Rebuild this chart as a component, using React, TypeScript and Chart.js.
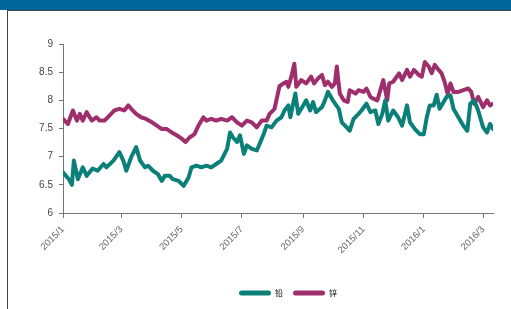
import React, { useEffect, useRef } from "react";
import { Chart, registerables } from "chart.js";

Chart.register(...registerables);

// Days counted from 2015-01-01
const leadDays = [0, 3, 6, 9, 11, 15, 20, 24, 30, 35, 41, 44, 51, 57, 61, 64, 69, 74, 78, 83, 86, 91, 96, 100, 103, 108, 111, 117, 122, 127, 130, 135, 140, 145, 150, 155, 160, 166, 169, 172, 176, 179, 183, 186, 191, 196, 199, 203, 206, 211, 216, 221, 224, 228, 230, 235, 238, 243, 246, 250, 253, 256, 262, 265, 268, 273, 279, 282, 287, 290, 294, 299, 302, 307, 311, 316, 319, 323, 326, 329, 334, 339, 343, 348, 351, 356, 361, 365, 368, 371, 375, 378, 381, 385, 388, 392, 395, 400, 405, 409, 412, 416, 420, 425, 429, 432, 435];
const leadValues = [6.72, 6.66, 6.6, 6.5, 6.93, 6.6, 6.81, 6.66, 6.79, 6.75, 6.87, 6.81, 6.93, 7.08, 6.93, 6.75, 6.99, 7.17, 6.93, 6.81, 6.84, 6.75, 6.69, 6.57, 6.66, 6.66, 6.6, 6.57, 6.48, 6.63, 6.81, 6.84, 6.81, 6.84, 6.81, 6.87, 6.93, 7.14, 7.43, 7.34, 7.26, 7.38, 7.05, 7.2, 7.14, 7.11, 7.23, 7.4, 7.55, 7.52, 7.64, 7.7, 7.82, 7.91, 7.7, 8.12, 7.76, 7.91, 8.0, 7.82, 7.97, 7.79, 7.88, 8.0, 8.15, 8.0, 7.85, 7.61, 7.52, 7.46, 7.67, 7.76, 7.82, 7.94, 7.79, 7.82, 7.58, 7.76, 8.0, 7.64, 7.82, 7.7, 7.55, 7.91, 7.61, 7.49, 7.4, 7.4, 7.7, 7.91, 7.91, 8.1, 7.85, 7.97, 8.06, 8.09, 7.85, 7.7, 7.55, 7.46, 7.94, 8.0, 7.82, 7.52, 7.43, 7.58, 7.49];

const zincDays = [0, 5, 10, 14, 17, 20, 24, 29, 34, 37, 42, 47, 52, 57, 62, 66, 69, 74, 79, 84, 90, 95, 100, 105, 110, 115, 120, 124, 128, 133, 137, 142, 145, 150, 155, 160, 166, 171, 176, 181, 186, 191, 196, 201, 206, 209, 214, 219, 223, 226, 228, 231, 234, 236, 241, 246, 251, 254, 258, 262, 265, 268, 272, 275, 277, 280, 284, 288, 290, 296, 299, 304, 307, 311, 314, 318, 321, 324, 328, 330, 334, 340, 343, 348, 351, 355, 360, 363, 366, 370, 373, 376, 380, 383, 386, 389, 392, 395, 400, 405, 410, 413, 416, 420, 425, 429, 432, 435];
const zincValues = [7.67, 7.58, 7.82, 7.64, 7.76, 7.64, 7.79, 7.64, 7.7, 7.64, 7.64, 7.73, 7.82, 7.85, 7.82, 7.91, 7.85, 7.76, 7.7, 7.67, 7.61, 7.55, 7.49, 7.49, 7.43, 7.38, 7.32, 7.26, 7.34, 7.4, 7.55, 7.7, 7.64, 7.67, 7.64, 7.67, 7.64, 7.7, 7.61, 7.55, 7.64, 7.61, 7.52, 7.64, 7.64, 7.76, 7.85, 8.25, 8.3, 8.33, 8.24, 8.42, 8.65, 8.24, 8.36, 8.3, 8.42, 8.3, 8.39, 8.45, 8.27, 8.33, 8.24, 8.3, 8.6, 8.12, 8.0, 7.97, 8.18, 8.12, 8.18, 8.15, 8.21, 8.06, 8.03, 8.0, 8.18, 8.36, 8.0, 8.3, 8.33, 8.48, 8.36, 8.54, 8.42, 8.54, 8.45, 8.42, 8.68, 8.6, 8.48, 8.63, 8.54, 8.48, 8.33, 8.12, 8.3, 8.15, 8.15, 8.18, 8.21, 8.15, 7.94, 8.06, 7.88, 8.0, 7.91, 7.94];

const tickDays = [0, 59, 120, 181, 243, 304, 365, 425];
const tickLabels = ["2015/1", "2015/3", "2015/5", "2015/7", "2015/9", "2015/11", "2016/1", "2016/3"];
const seriesNames = ["铅", "锌"];

const FONT = "'Liberation Sans', 'DejaVu Sans', 'Noto Sans CJK SC', sans-serif";

const legendShift = {
  id: "legendShift",
  afterLayout(chart: any) {
    const lg = chart.legend;
    if (lg) {
      lg.left += 10;
      lg.right += 10;
    }
  },
};

export default function App() {
  const ref = useRef<HTMLCanvasElement | null>(null);

  useEffect(() => {
    if (!ref.current) return;
    const colors = ["#0b8078", "#9e2f6c"];
    const chart = new Chart(ref.current, {
      type: "line",
      plugins: [legendShift],
      data: {
        datasets: [
          {
            label: seriesNames[0],
            data: leadDays.map((d, i) => ({ x: d, y: leadValues[i] })),
            borderColor: colors[0],
            backgroundColor: colors[0],
            borderWidth: 4,
            pointRadius: 0,
            tension: 0,
            borderJoinStyle: "round",
            borderCapStyle: "round",
          },
          {
            label: seriesNames[1],
            data: zincDays.map((d, i) => ({ x: d, y: zincValues[i] })),
            borderColor: colors[1],
            backgroundColor: colors[1],
            borderWidth: 4,
            pointRadius: 0,
            tension: 0,
            borderJoinStyle: "round",
            borderCapStyle: "round",
          },
        ],
      },
      options: {
        animation: false,
        responsive: false,
        maintainAspectRatio: false,
        layout: { padding: { top: 44, right: 18, left: 0, bottom: 2 } },
        plugins: {
          tooltip: { enabled: false },
          legend: {
            position: "bottom",
            fullSize: false,
            labels: {
              boxWidth: 32,
              boxHeight: 5,
              padding: 10,
              color: "#333",
              font: { size: 8, family: "'Noto Sans CJK SC', sans-serif" },
              generateLabels: (c: any) =>
                c.data.datasets.map((ds: any, i: number) => ({
                  text: ds.label,
                  fillStyle: ds.borderColor,
                  strokeStyle: ds.borderColor,
                  lineWidth: 0,
                  borderRadius: 2.5,
                  datasetIndex: i,
                  hidden: false,
                })),
            },
          },
        },
        scales: {
          x: {
            type: "linear",
            min: 0,
            max: 435,
            afterFit: (s: any) => {
              s.height = 66;
            },
            afterBuildTicks: (s: any) => {
              s.ticks = tickDays.map((v) => ({ value: v }));
            },
            grid: {
              drawOnChartArea: false,
              drawTicks: true,
              tickLength: 5,
              color: "#777",
            },
            border: { color: "#777", width: 1 },
            ticks: {
              autoSkip: false,
              maxRotation: 45,
              minRotation: 45,
              padding: 6,
              color: "#666",
              font: { size: 9.5, family: FONT },
              callback: (v: any) => {
                const i = tickDays.indexOf(Number(v));
                return i >= 0 ? tickLabels[i] : "";
              },
            },
          },
          y: {
            min: 6,
            max: 9,
            afterFit: (s: any) => {
              s.width = 63;
            },
            grid: {
              drawOnChartArea: false,
              drawTicks: true,
              tickLength: 4,
              color: "#777",
            },
            border: { color: "#777", width: 1 },
            ticks: {
              stepSize: 0.5,
              padding: 6,
              color: "#444",
              font: { size: 10, family: FONT },
              callback: (v: any) => String(Number(v)),
            },
          },
        },
      },
    });
    return () => chart.destroy();
  }, []);

  return (
    <div
      style={{
        position: "fixed",
        left: 0,
        top: 0,
        width: 511,
        height: 309,
        background: "#fff",
        overflow: "hidden",
      }}
    >
      <div style={{ position: "absolute", left: 0, top: 0, width: 511, height: 10, background: "#00659b" }} />
      <div style={{ position: "absolute", left: 7, top: 10, right: 0, height: 1, background: "#444" }} />
      <div style={{ position: "absolute", left: 7, top: 10, width: 1, bottom: 0, background: "#444" }} />
      <canvas ref={ref} width={511} height={309} style={{ position: "absolute", left: 0, top: 0, width: 511, height: 309 }} />
    </div>
  );
}
